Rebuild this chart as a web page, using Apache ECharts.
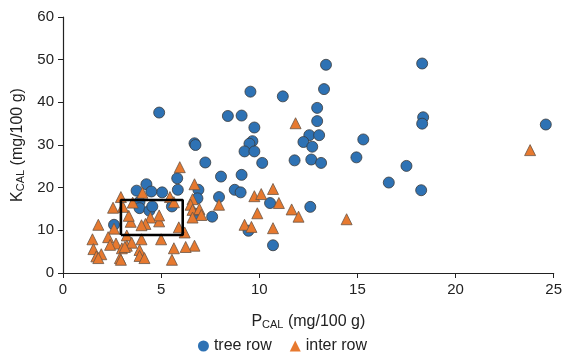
<!DOCTYPE html>
<html>
<head>
<meta charset="utf-8">
<script src="https://cdn.jsdelivr.net/npm/echarts@6/dist/echarts.min.js"></script>
<style>
  html, body { margin: 0; padding: 0; background: #fff; }
  #chart { width: 565px; height: 359px; }
</style>
</head>
<body>
<div id="chart"></div>
<script>
// tree row: [P_CAL, K_CAL]
var treeRow = [
  [4.9, 37.6], [6.7, 30.4], [6.75, 30.0], [7.25, 25.9], [8.05, 22.6], [9.1, 23.0],
  [8.4, 36.8], [9.1, 36.9], [9.55, 42.5], [11.2, 41.4], [9.75, 34.1], [9.65, 30.9],
  [9.5, 30.3], [9.25, 28.5], [9.75, 28.5], [10.15, 25.8], [5.82, 22.2], [13.4, 48.8],
  [18.3, 49.1], [13.3, 43.1], [12.95, 38.7], [12.95, 35.6], [18.35, 36.5], [18.3, 35.0],
  [24.6, 34.8], [12.55, 32.3], [13.05, 32.3], [12.25, 30.7], [12.7, 29.6], [15.3, 31.3],
  [11.8, 26.4], [12.65, 26.6], [13.15, 25.8], [14.95, 27.1], [17.5, 25.1], [16.6, 21.2],
  [18.25, 19.4], [12.6, 15.5], [8.75, 19.5], [9.05, 18.9], [10.55, 16.4], [9.45, 9.9],
  [10.7, 6.5], [7.6, 13.2], [7.95, 17.8], [6.9, 19.5], [6.85, 17.5], [5.85, 19.5],
  [5.05, 18.9], [4.25, 20.8], [3.75, 19.3], [4.5, 19.1], [3.9, 16.7], [3.9, 15.2],
  [4.4, 14.6], [4.55, 15.6], [5.55, 15.6], [2.6, 11.3], [6.75, 13.9]
];
// inter row: [P_CAL, K_CAL]
var interRow = [
  [11.85, 35.1], [23.8, 28.8], [11.0, 16.4], [11.65, 14.9], [12.0, 13.2], [14.45, 12.6],
  [10.7, 19.7], [9.75, 18.0], [10.1, 18.5], [9.9, 14.0], [9.25, 11.3], [9.6, 10.8],
  [10.7, 10.5], [5.95, 24.8], [6.7, 20.8], [6.6, 17.3], [6.5, 16.0], [6.6, 14.8],
  [6.95, 15.0], [7.05, 13.6], [6.6, 13.0], [7.95, 16.0], [6.7, 6.4], [6.25, 6.1],
  [5.65, 5.8], [5.55, 3.1], [6.2, 9.5], [5.9, 10.7], [5.0, 7.9], [4.9, 12.1],
  [4.9, 13.5], [4.45, 13.0], [4.2, 11.5], [4.0, 11.2], [3.45, 12.0], [3.35, 13.4],
  [3.05, 15.5], [2.55, 15.3], [2.95, 17.8], [3.55, 16.5], [4.05, 18.8], [5.45, 17.8],
  [5.65, 16.6], [2.6, 10.4], [1.8, 11.3], [2.3, 8.4], [1.5, 7.9], [1.55, 5.6],
  [1.95, 4.4], [1.7, 3.9], [1.8, 3.5], [2.7, 6.9], [3.0, 5.8], [2.9, 3.5],
  [2.95, 3.1], [3.25, 8.8], [3.25, 6.4], [3.5, 7.1], [4.0, 7.9], [3.9, 5.4],
  [3.9, 4.0], [4.15, 3.5], [2.4, 6.6], [3.15, 6.1]
];
// highlighted box corners
var boxX = [2.95, 6.1];
var boxY = [8.9, 17.1];
var boxPath = [[boxX[0], boxY[0]], [boxX[1], boxY[0]], [boxX[1], boxY[1]], [boxX[0], boxY[1]], [boxX[0], boxY[0]]];

var font = 'Liberation Sans, Arial, sans-serif';
var nameRich = {
  m: { fontSize: 16, fontFamily: font, color: '#222' },
  s: { fontSize: 11, fontFamily: font, color: '#222', padding: [6, 0, 0, 0] }
};

var chart = echarts.init(document.getElementById('chart'));
chart.setOption({
  animation: false,
  grid: { left: 63, right: 9, top: 17, bottom: 86 },
  legend: {
    data: [
      { name: 'tree row', icon: 'circle' },
      { name: 'inter row', icon: 'triangle' }
    ],
    bottom: 0,
    itemWidth: 11,
    itemHeight: 11,
    itemGap: 18,
    itemStyle: { borderWidth: 0 },
    textStyle: { fontSize: 16, fontFamily: font, color: '#222' }
  },
  xAxis: {
    type: 'value',
    min: 0, max: 25, interval: 5,
    name: '{m|P}{s|CAL}{m| (mg/100 g)}',
    nameLocation: 'middle',
    nameGap: 40,
    nameTextStyle: { rich: nameRich },
    axisLine: { lineStyle: { color: '#222', width: 1.2 } },
    axisTick: { show: true, length: 5, lineStyle: { color: '#222' } },
    axisLabel: { fontSize: 15, fontFamily: font, color: '#222', margin: 9 },
    splitLine: { show: false }
  },
  yAxis: {
    type: 'value',
    min: 0, max: 60, interval: 10,
    name: '{m|K}{s|CAL}{m| (mg/100 g)}',
    nameLocation: 'middle',
    nameGap: 27,
    nameRotate: 90,
    nameTextStyle: { rich: nameRich },
    axisLine: { show: true, lineStyle: { color: '#222', width: 1.2 } },
    axisTick: { show: true, length: 5, lineStyle: { color: '#222' } },
    axisLabel: { fontSize: 15, fontFamily: font, color: '#222', margin: 9 },
    splitLine: { show: false }
  },
  series: [
    {
      name: 'tree row',
      type: 'scatter',
      symbol: 'circle',
      symbolSize: 11,
      data: treeRow,
      itemStyle: { color: '#2E72B4', borderColor: '#3a3a3a', borderWidth: 0.8, opacity: 1 }
    },
    {
      name: 'inter row',
      type: 'scatter',
      symbol: 'triangle',
      symbolSize: 11,
      data: interRow,
      itemStyle: { color: '#E7792F', borderColor: '#6a5546', borderWidth: 0.8, opacity: 1 }
    },
    {
      name: 'box',
      type: 'line',
      data: boxPath,
      symbol: 'none',
      silent: true,
      z: 5,
      lineStyle: { color: '#000', width: 2.6 }
    }
  ]
});
</script>
</body>
</html>
